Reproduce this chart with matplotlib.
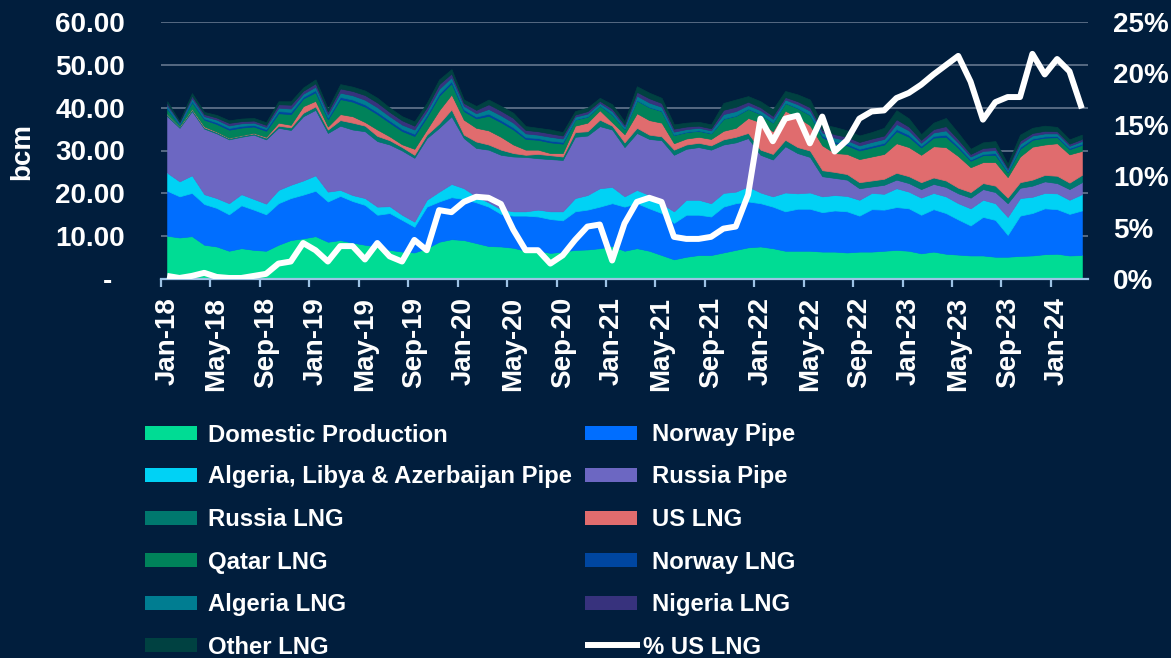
import matplotlib
matplotlib.use('Agg')
import matplotlib.pyplot as plt
import numpy as np
import pandas as pd
from matplotlib.patches import Rectangle
from matplotlib.lines import Line2D
import matplotlib.transforms as mtransforms

plt.rcParams['font.family'] = ['Liberation Sans', 'DejaVu Sans']

# ---------------- data (bcm per month, Jan-18 .. Mar-24) ----------------
months = pd.date_range('2018-01-01', periods=75, freq='MS').strftime('%b-%y').tolist()

domestic = [10.1, 9.7, 10.0, 8.0, 7.6, 6.6, 7.2, 6.8, 6.6, 8.0,
            9.1, 9.5, 10.0, 8.7, 9.1, 8.5, 8.0, 7.6, 6.8, 6.4,
            6.2, 7.2, 8.7, 9.3, 9.1, 8.4, 7.7, 7.6, 7.3, 6.6,
            6.6, 6.1, 6.4, 6.8, 6.9, 7.2, 7.7, 6.6, 7.2, 6.6,
            5.6, 4.6, 5.2, 5.6, 5.6, 6.2, 6.8, 7.4, 7.6, 7.2,
            6.6, 6.6, 6.6, 6.4, 6.4, 6.2, 6.4, 6.4, 6.6, 6.8,
            6.6, 6.0, 6.4, 5.9, 5.7, 5.5, 5.5, 5.2, 5.2, 5.4,
            5.5, 5.8, 5.9, 5.5, 5.6]
norway_pipe = [10.5, 9.6, 10.1, 9.5, 9.0, 8.5, 10.0, 9.4, 8.5, 9.7,
               9.8, 10.2, 10.6, 9.4, 10.3, 9.7, 9.3, 7.4, 8.6, 7.4,
               6.0, 9.7, 9.4, 9.8, 9.6, 9.5, 9.2, 7.6, 7.5, 8.2,
               8.0, 7.9, 7.3, 9.0, 9.3, 9.7, 10.0, 10.3, 10.5, 9.9,
               9.8, 8.5, 9.8, 9.4, 9.0, 10.7, 10.9, 10.7, 10.1, 9.7,
               9.2, 9.8, 9.8, 9.2, 9.6, 9.6, 8.4, 9.9, 9.6, 10.0,
               9.9, 9.0, 9.9, 9.5, 8.2, 7.0, 9.0, 8.6, 5.1, 9.4,
               9.9, 10.7, 10.4, 9.7, 10.4]
alg_lib_aze_pipe = [4.2, 3.5, 4.1, 2.3, 2.3, 2.6, 2.6, 2.5, 2.5, 3.1,
                    3.1, 3.3, 3.6, 2.3, 1.4, 1.4, 1.6, 1.9, 1.6, 1.2,
                    1.2, 1.6, 2.3, 3.1, 2.5, 1.4, 1.0, 1.1, 1.0, 1.0,
                    1.6, 1.8, 2.1, 3.1, 3.4, 4.3, 3.8, 2.4, 3.1, 3.1,
                    2.2, 2.7, 3.5, 3.5, 3.1, 3.2, 2.7, 3.5, 2.5, 2.4,
                    4.4, 3.6, 3.8, 3.7, 3.6, 3.6, 3.7, 3.8, 3.7, 4.4,
                    3.9, 4.0, 3.8, 3.9, 3.8, 4.0, 4.0, 3.9, 4.2, 4.1,
                    3.8, 3.6, 3.7, 3.3, 3.8]
russia_pipe = [13.2, 12.5, 15.0, 15.3, 15.1, 14.9, 13.4, 15.0, 15.0, 14.5,
               12.8, 15.0, 15.3, 13.7, 15.0, 15.3, 15.6, 15.3, 14.4, 15.0,
               14.9, 14.4, 14.9, 15.8, 11.7, 11.3, 12.3, 12.7, 12.8, 12.7,
               12.0, 12.2, 12.0, 14.3, 13.9, 14.5, 13.4, 11.5, 13.3, 13.1,
               14.8, 13.2, 11.9, 12.3, 12.5, 11.3, 11.5, 11.3, 8.8, 8.6,
               10.8, 9.4, 8.3, 4.7, 4.0, 3.8, 2.7, 1.5, 2.1, 2.0,
               2.0, 2.0, 2.1, 2.2, 2.3, 2.5, 2.5, 2.6, 3.2, 2.4,
               2.6, 2.7, 2.4, 2.5, 2.8]
russia_lng = [0.4, 0.3, 0.4, 0.3, 0.3, 0.3, 0.3, 0.3, 0.4, 0.5,
              0.6, 0.8, 0.8, 0.8, 1.3, 1.6, 1.3, 1.2, 1.0, 0.8,
              0.7, 0.8, 1.0, 1.6, 0.8, 1.5, 1.2, 1.2, 0.8, 0.5,
              1.0, 0.9, 0.8, 1.1, 1.0, 1.5, 0.9, 1.1, 1.2, 1.0,
              0.9, 1.2, 1.0, 1.0, 1.0, 1.2, 1.3, 1.2, 1.2, 1.3,
              1.5, 1.4, 1.5, 1.4, 1.4, 1.3, 1.4, 1.4, 1.4, 1.6,
              1.6, 1.6, 1.5, 1.5, 1.3, 1.3, 1.4, 1.5, 1.3, 1.3,
              1.4, 1.5, 1.7, 1.5, 1.7]
us_lng = [0.1, 0.05, 0.1, 0.2, 0.1, 0.05, 0.05, 0.1, 0.2, 0.7,
          0.6, 1.55, 1.3, 0.7, 1.4, 1.5, 0.85, 1.5, 0.9, 0.65,
          1.4, 1.2, 3.1, 3.5, 3.5, 3.2, 3.3, 3.0, 2.0, 1.2,
          1.0, 0.5, 0.8, 1.5, 2.0, 2.2, 0.8, 1.9, 3.4, 3.4,
          3.2, 1.5, 1.4, 1.4, 1.5, 2.0, 2.1, 3.5, 6.4, 5.3,
          6.8, 7.0, 5.9, 5.8, 4.4, 4.7, 5.4, 5.6, 5.8, 6.9,
          6.8, 6.4, 7.3, 7.8, 7.4, 5.8, 4.9, 5.5, 4.8, 6.0,
          7.7, 7.1, 7.6, 6.6, 5.6]
qatar_lng = [1.2, 0.4, 1.6, 1.6, 1.8, 1.9, 1.8, 1.5, 1.4, 2.2,
             2.5, 1.8, 2.0, 1.7, 3.5, 3.4, 3.6, 3.6, 3.2, 3.1,
             3.0, 2.9, 3.4, 2.6, 2.0, 2.2, 3.4, 3.4, 3.5, 2.5,
             2.3, 2.5, 2.2, 1.4, 1.4, 1.1, 1.8, 1.2, 3.0, 3.0,
             2.7, 1.9, 1.5, 1.4, 1.3, 2.8, 2.8, 2.1, 1.9, 2.0,
             1.8, 2.1, 2.4, 1.9, 2.3, 2.0, 2.0, 2.1, 2.2, 2.8,
             2.4, 1.7, 2.0, 2.4, 1.9, 1.5, 1.6, 1.7, 1.1, 1.8,
             1.6, 1.6, 1.4, 1.2, 1.4]
norway_lng = [0.3, 0.1, 0.3, 0.3, 0.4, 0.4, 0.4, 0.4, 0.4, 0.5,
              0.5, 0.4, 0.5, 0.4, 0.5, 0.5, 0.5, 0.5, 0.5, 0.5,
              0.5, 0.5, 0.5, 0.5, 0.4, 0.4, 0.5, 0.5, 0.5, 0.4,
              0.4, 0.4, 0.4, 0.1, 0.1, 0.1, 0.1, 0.1, 0.1, 0.1,
              0.1, 0.1, 0.1, 0.1, 0.1, 0.1, 0.1, 0.1, 0.1, 0.1,
              0.1, 0.1, 0.1, 0.4, 0.4, 0.4, 0.4, 0.4, 0.4, 0.5,
              0.5, 0.4, 0.4, 0.5, 0.4, 0.3, 0.3, 0.4, 0.2, 0.4,
              0.3, 0.3, 0.3, 0.3, 0.3]
algeria_lng = [0.5, 0.3, 0.6, 0.5, 0.6, 0.6, 0.6, 0.5, 0.5, 0.8,
               0.8, 0.7, 0.8, 0.7, 1.0, 1.0, 1.1, 1.1, 1.0, 1.0,
               1.0, 0.9, 1.1, 0.9, 0.8, 0.8, 1.1, 1.1, 1.1, 0.9,
               0.8, 0.9, 0.8, 0.6, 0.6, 0.5, 0.7, 0.5, 1.0, 1.0,
               0.9, 0.7, 0.6, 0.6, 0.6, 1.0, 1.0, 0.8, 0.8, 0.8,
               0.7, 0.8, 0.9, 0.7, 0.9, 0.8, 0.8, 0.9, 0.9, 1.2,
               1.0, 0.7, 0.8, 1.0, 0.8, 0.7, 0.7, 0.7, 0.5, 0.8,
               0.7, 0.7, 0.6, 0.5, 0.6]
nigeria_lng = [0.5, 0.2, 0.6, 0.5, 0.5, 0.6, 0.5, 0.5, 0.5, 0.8,
               0.9, 0.7, 0.8, 0.7, 1.0, 1.0, 1.1, 1.1, 1.0, 1.0,
               0.9, 0.9, 1.1, 0.9, 0.7, 0.8, 1.1, 1.1, 1.1, 0.8,
               0.8, 0.8, 0.7, 0.5, 0.6, 0.5, 0.6, 0.5, 0.9, 1.0,
               0.9, 0.7, 0.6, 0.5, 0.5, 1.0, 1.0, 0.8, 0.7, 0.7,
               0.6, 0.7, 0.8, 0.6, 0.8, 0.8, 0.8, 0.8, 0.8, 1.1,
               0.9, 0.7, 0.8, 1.0, 0.8, 0.6, 0.7, 0.7, 0.4, 0.7,
               0.6, 0.6, 0.5, 0.5, 0.5]
other_lng = [0.5, 0.2, 0.6, 0.5, 0.6, 0.6, 0.6, 0.6, 0.6, 0.7,
             0.8, 0.75, 0.9, 0.7, 1.0, 1.0, 1.05, 1.1, 1.0, 0.95,
             1.0, 1.0, 1.1, 1.0, 0.8, 0.9, 1.1, 1.1, 1.2, 0.9,
             0.8, 0.9, 0.8, 0.8, 0.8, 0.7, 1.0, 0.7, 1.3, 1.3,
             1.2, 1.0, 0.9, 0.9, 0.9, 1.6, 1.7, 1.3, 1.4, 1.5,
             1.4, 1.6, 1.8, 1.3, 1.7, 1.5, 1.5, 1.5, 1.8, 2.1,
             1.9, 1.3, 1.5, 1.9, 1.5, 1.2, 1.3, 1.4, 0.9, 1.4,
             1.2, 1.2, 1.0, 1.0, 1.0]
pct_us_lng = [0.3, 0.1, 0.3, 0.6, 0.2, 0.1, 0.1, 0.3, 0.5, 1.5,
              1.7, 3.5, 2.8, 1.7, 3.2, 3.2, 1.9, 3.5, 2.2, 1.7,
              3.8, 2.8, 6.7, 6.5, 7.5, 8.0, 7.9, 7.3, 4.8, 2.8,
              2.8, 1.5, 2.3, 3.8, 5.1, 5.3, 1.8, 5.4, 7.5, 7.9,
              7.5, 4.1, 3.9, 3.9, 4.1, 4.9, 5.1, 8.2, 15.6, 13.4,
              15.6, 15.9, 13.2, 15.8, 12.4, 13.5, 15.6, 16.3, 16.4, 17.6,
              18.1, 18.9, 19.9, 20.8, 21.7, 19.2, 15.5, 17.2, 17.7, 17.7,
              21.9, 19.9, 21.4, 20.2, 16.6]

series_names = ['Domestic Production', 'Norway Pipe', 'Algeria, Libya & Azerbaijan Pipe',
                'Russia Pipe', 'Russia LNG', 'US LNG', 'Qatar LNG', 'Norway LNG',
                'Algeria LNG', 'Nigeria LNG', 'Other LNG']
series_values = [domestic, norway_pipe, alg_lib_aze_pipe, russia_pipe, russia_lng,
                 us_lng, qatar_lng, norway_lng, algeria_lng, nigeria_lng, other_lng]
series_colors = ['#00DC94', '#006EFF', '#00D2F5', '#6C67C2', '#00786E',
                 '#E06C6E', '#00825A', '#0046A0', '#007D91', '#37327D', '#004141']
left_ticks = [0, 10, 20, 30, 40, 50, 60]
left_labels = ['-', '10.00', '20.00', '30.00', '40.00', '50.00', '60.00']
right_ticks = [0, 5, 10, 15, 20, 25]
right_labels = ['0%', '5%', '10%', '15%', '20%', '25%']

# ---------------- figure ----------------
W, H = 1171, 658
BG = '#011E3D'
fig = plt.figure(figsize=(W / 100, H / 100), dpi=100)
fig.patch.set_facecolor(BG)

ax = fig.add_axes([161 / W, 1 - 279 / H, 927 / W, 257 / H])
ax.set_facecolor(BG)
x = np.arange(len(months))
polys = ax.stackplot(x, *series_values, colors=series_colors, zorder=2)
for p in polys:
    p.set_edgecolor(p.get_facecolor())
    p.set_linewidth(0.5)

ax.set_xlim(-0.5, len(months) - 0.5)
ax.set_ylim(0, 60)
ax.set_yticks(left_ticks)
ax.set_yticklabels(left_labels)
ax.yaxis.grid(True, color='#5C6F88', linewidth=1.3)
ax.set_axisbelow(True)
for s in ['top', 'right', 'left']:
    ax.spines[s].set_visible(False)
ax.spines['bottom'].set_color('#9DC3E6')
ax.spines['bottom'].set_linewidth(1.6)
ax.spines['bottom'].set_zorder(5)

ax.set_xticks(x[::4])
ax.set_xticklabels(months[::4], rotation=90)
ax.set_xticks(np.arange(-0.5, len(months) - 1, 4), minor=True)
ax.tick_params(axis='x', which='major', length=0, pad=13, labelsize=20,
               labelcolor='white')
ax.tick_params(axis='x', which='minor', length=6, width=1.6, color='#9DC3E6',
               direction='out')
ax.tick_params(axis='y', length=0, pad=26, labelsize=20, labelcolor='white')
for lab in ax.get_xticklabels() + ax.get_yticklabels():
    lab.set_fontweight('bold')
zero_lab = ax.get_yticklabels()[0]
zero_lab.set_transform(zero_lab.get_transform() +
                       mtransforms.ScaledTranslation(-13 / 100, 0, fig.dpi_scale_trans))

ax2 = ax.twinx()
ax2.set_ylim(0, 25)
ax2.set_yticks(right_ticks)
ax2.set_yticklabels(right_labels)
for s in ax2.spines.values():
    s.set_visible(False)
ax2.tick_params(axis='y', length=0, pad=18, labelsize=20, labelcolor='white')
for lab in ax2.get_yticklabels():
    lab.set_fontweight('bold')
ax2.plot(x, pct_us_lng, color='white', linewidth=4.3, solid_joinstyle='round',
         solid_capstyle='butt', zorder=6)

fig.text(22 / W, 1 - 152 / H, 'bcm', rotation=90, ha='center', va='center',
         fontsize=20, fontweight='bold', color='white')

# ---------------- legend (two columns, row-major) ----------------
row_y = [433, 475, 518, 560, 603, 645]
col_patch_x = [145, 585]
col_text_x = [208, 652]
entries = list(zip(series_names, series_colors)) + [('% US LNG', None)]
for k, (name, col) in enumerate(entries):
    r, c = divmod(k, 2)
    yc = row_y[r]
    if col is not None:
        rect = Rectangle((col_patch_x[c] / W, 1 - (yc + 7) / H), 52 / W, 14 / H,
                         transform=fig.transFigure, facecolor=col, edgecolor='none')
        fig.add_artist(rect)
        tx = col_text_x[c]
    else:
        ln = Line2D([col_patch_x[c] / W, (col_patch_x[c] + 55) / W],
                    [1 - yc / H, 1 - yc / H], transform=fig.transFigure,
                    color='white', linewidth=4.3, solid_capstyle='butt')
        fig.add_artist(ln)
        tx = col_patch_x[c] + 58
    fig.text(tx / W, 1 - (yc + 8.5) / H, name, ha='left', va='baseline',
             fontsize=17.2, fontweight='bold', color='white')

fig.savefig('out.png', dpi=100, facecolor=BG)
